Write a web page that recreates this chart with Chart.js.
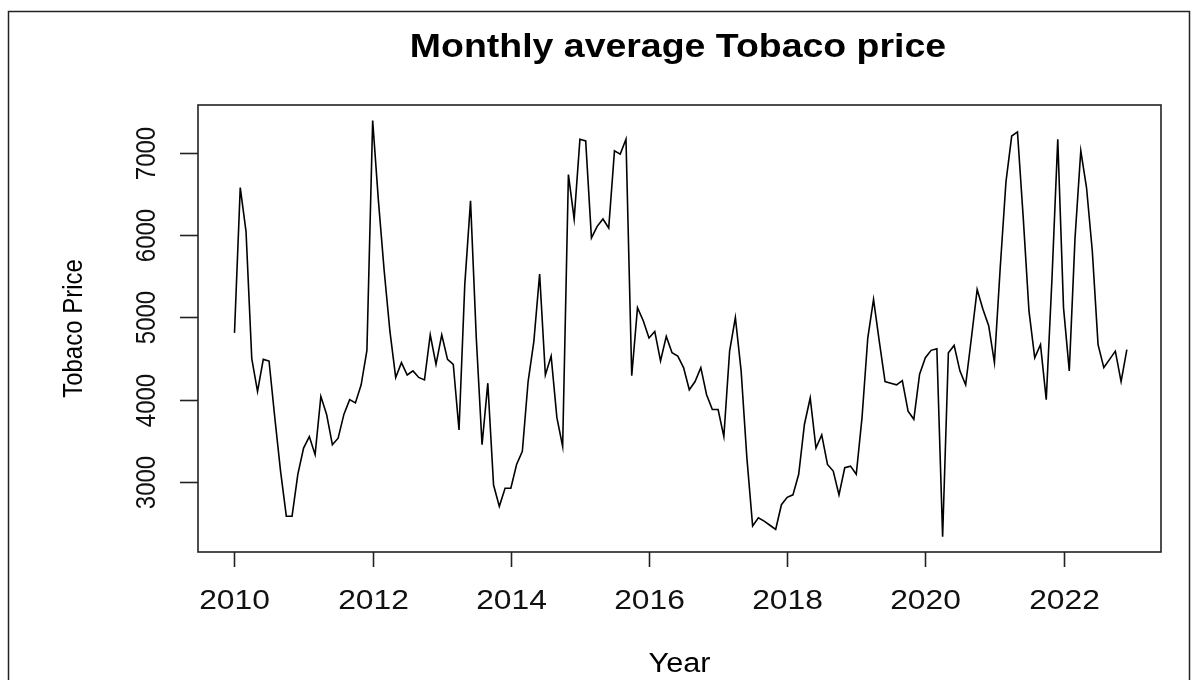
<!DOCTYPE html>
<html>
<head>
<meta charset="utf-8">
<script src="https://cdn.jsdelivr.net/npm/chart.js@4.4.1/dist/chart.umd.min.js"></script>
<style>
  html, body { margin: 0; padding: 0; background: #fff; }
  #wrap { width: 1198px; height: 680px; }
</style>
</head>
<body>
<div id="wrap"><canvas id="tobacco" width="1198" height="680"></canvas></div>
<script>
// monthly series, Jan 2010 .. Dec 2022
const startYear = 2010
const tobaccoPrice = [
  4813, 6582, 6050, 4500, 4100, 4490, 4470, 3780, 3130, 2580, 2580, 3090,
  3410, 3550, 3330, 4040, 3820, 3450, 3530, 3820, 4000, 3960, 4180, 4600,
  7400, 6420, 5570, 4830, 4270, 4450, 4300, 4350, 4270, 4240, 4790, 4430,
  4790, 4490, 4430, 3630, 5400, 6420, 4750, 3450, 4200, 2960, 2700, 2920,
  2920, 3210, 3370, 4220, 4710, 5530, 4300, 4530, 3780, 3430, 6740, 6200,
  7170, 7150, 5970, 6110, 6200, 6090, 7030, 6990, 7170, 4290, 5120, 4960,
  4750, 4830, 4470, 4770, 4570, 4530, 4390, 4120, 4220, 4390, 4060, 3880,
  3880, 3550, 4590, 5000, 4350, 3290, 2460, 2560, 2520, 2470, 2420, 2720,
  2810, 2840, 3090, 3700, 4020, 3410, 3570, 3210, 3130, 2840, 3170, 3190,
  3090, 3780, 4750, 5220, 4710, 4220, 4200, 4180, 4230, 3860, 3760, 4310,
  4510, 4600, 4620, 2330, 4570, 4660, 4350, 4180, 4750, 5340, 5100, 4900,
  4450, 5600, 6650, 7210, 7260, 6220, 5080, 4510, 4670, 4000, 5480, 7170,
  5120, 4350, 5970, 7030, 6580, 5810, 4670, 4390, 4490, 4590, 4220, 4610,
]
const xTicks = [2010, 2012, 2014, 2016, 2018, 2020, 2022]
const yTicks = [3000, 4000, 5000, 6000, 7000]

const titleText = 'Monthly average Tobaco price'
const xTitle = 'Year'
const yTitle = 'Tobaco Price'

const points = tobaccoPrice.map((v, i) => ({ x: startYear + i / 12, y: v }))

const FAMILY = '"Liberation Sans", Arial, sans-serif'
const SX = 1.135 // the original picture is a bit wider than tall

function stretchText(ctx, text, x, y, font, rotate) {
  ctx.save()
  ctx.translate(x, y)
  ctx.scale(SX, 1)
  if (rotate) ctx.rotate(-Math.PI / 2)
  ctx.font = font
  ctx.textAlign = 'center'
  ctx.textBaseline = 'alphabetic'
  ctx.fillText(text, 0, 0)
  ctx.restore()
}

const rPlotFrame = {
  id: 'rPlotFrame',
  afterDraw(chart) {
    const ctx = chart.ctx
    const area = chart.chartArea
    const xs = chart.scales.x
    const ys = chart.scales.y

    ctx.save()
    // outer device frame
    ctx.strokeStyle = '#222'
    ctx.lineWidth = 1.5
    ctx.strokeRect(8.5, 11.5, 1181, 700)

    // plot box
    ctx.strokeStyle = '#222'
    ctx.lineWidth = 1.6
    ctx.strokeRect(area.left, area.top, area.right - area.left, area.bottom - area.top)

    ctx.fillStyle = '#111'
    // x axis ticks + labels
    xTicks.forEach((t) => {
      const px = Math.round(xs.getPixelForValue(t)) + 0.5
      ctx.beginPath()
      ctx.moveTo(px, area.bottom)
      ctx.lineTo(px, area.bottom + 15)
      ctx.stroke()
      stretchText(ctx, String(t), px, 609, '28px ' + FAMILY, false)
    })
    // y axis ticks + labels (rotated like R, las = 0)
    yTicks.forEach((t) => {
      const py = Math.round(ys.getPixelForValue(t)) + 0.5
      ctx.beginPath()
      ctx.moveTo(area.left, py)
      ctx.lineTo(area.left - 18, py)
      ctx.stroke()
      stretchText(ctx, String(t), 155, py, '24px ' + FAMILY, true)
    })

    // titles
    ctx.fillStyle = '#000'
    stretchText(ctx, titleText, 678, 57, 'bold 33px ' + FAMILY, false)
    stretchText(ctx, xTitle, (area.left + area.right) / 2, 672, '27px ' + FAMILY, false)
    stretchText(ctx, yTitle, 82, (area.top + area.bottom) / 2, '24px ' + FAMILY, true)
    ctx.restore()
  },
}

new Chart(document.getElementById('tobacco').getContext('2d'), {
  type: 'line',
  data: {
    datasets: [
      {
        label: yTitle,
        data: points,
        borderColor: '#000',
        borderWidth: 1.6,
        pointRadius: 0,
        tension: 0,
        fill: false,
      },
    ],
  },
  options: {
    responsive: false,
    animation: false,
    layout: {
      padding: { left: 198, top: 105, right: 37, bottom: 128 },
    },
    plugins: {
      legend: { display: false },
      tooltip: { enabled: false },
    },
    scales: {
      x: { type: 'linear', min: 2009.4717, max: 2023.411, display: false },
      y: { min: 2144, max: 7588, display: false },
    },
  },
  plugins: [rPlotFrame],
})
</script>
</body>
</html>
